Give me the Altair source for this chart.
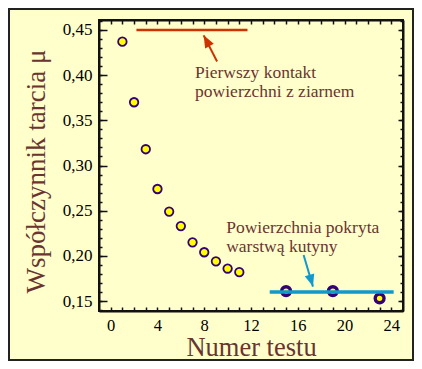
import altair as alt
import pandas as pd

# ---- data ----
test_no = [1, 2, 3, 4, 5, 6, 7, 8, 9, 10, 11]
mu = [0.437, 0.370, 0.318, 0.274, 0.249, 0.233, 0.215, 0.204, 0.194, 0.186, 0.182]
test_no_cut = [15, 19, 23]
mu_cut = [0.161, 0.161, 0.153]

red_line_x = [2.2, 11.7]
red_line_y = [0.45]
blue_line_x = [13.6, 24.2]
blue_line_y = [0.160]

red_arrow = {"x": [9.1], "y": [0.415], "x2": [7.95], "y2": [0.444]}
blue_arrow = {"x": [16.5], "y": [0.201], "x2": [17.3], "y2": [0.166]}

red_text = ["Pierwszy kontakt", "powierzchni z ziarnem"]
red_text_x = [7.22, 7.22]
red_text_y = [0.397, 0.3755]
blue_text = ["Powierzchnia pokryta", "warstwą kutyny"]
blue_text_x = [9.88, 9.88]
blue_text_y = [0.2252, 0.2043]

x_ticks = list(range(0, 25))
y_major = [0.15, 0.20, 0.25, 0.30, 0.35, 0.40, 0.45]
y_minor = [round(0.14 + 0.01 * i, 2) for i in range(33)]

# ---- styling ----
BROWN = "#6a3530"
FONT = "Liberation Serif"
BG = "#ffffcc"

xs = alt.Scale(domain=[-1, 25], nice=False, zero=False)
ys = alt.Scale(domain=[0.139, 0.461], nice=False, zero=False)


def inward(n):
    return alt.ExprRef(expr=str(-n))


common = dict(grid=False, tickColor="#111", tickWidth=1.5, labelFont=FONT,
              labelFontSize=17, labelColor="#000", titleFont=FONT,
              titleFontSize=27, titleColor=BROWN, titleFontWeight="normal",
              domainColor="#111", domainWidth=2)

bottom_style = dict(common, labelFontSize=16.5, titleFontSize=26.5)

ax_bottom = alt.Axis(orient="bottom", values=x_ticks, tickSize=inward(4),
                     labelExpr="datum.value % 4 === 0 ? datum.value : ''",
                     labelOverlap=False, labelPadding=10, title="Numer testu",
                     titleBaseline="alphabetic", titleY=44.5, **bottom_style)
ax_top = alt.Axis(orient="top", values=x_ticks, tickSize=inward(4),
                  labels=False, title=None, **common)
ax_left = alt.Axis(orient="left", values=y_major, tickSize=inward(8),
                   labelExpr="replace(format(datum.value, '.2f'), '.', ',')",
                   labelPadding=15, title="Współczynnik tarcia μ",
                   titleBaseline="alphabetic", titleAngle=270, titleX=-55,
                   titleY=151, **common)
ax_left_minor = alt.Axis(orient="left", values=y_minor, tickSize=inward(3),
                         labels=False, domain=False, title=None, **common)
ax_right = alt.Axis(orient="right", values=y_major, tickSize=inward(5),
                    labels=False, title=None, **common)
ax_right_minor = alt.Axis(orient="right", values=y_minor, tickSize=inward(3),
                          labels=False, domain=False, title=None, **common)

main_df = pd.DataFrame({"test": test_no, "mu": mu})
cut_df = pd.DataFrame({"test": test_no_cut, "mu": mu_cut})
red_df = pd.DataFrame({"x": [red_line_x[0]], "x2": [red_line_x[1]], "y": red_line_y})
blue_df = pd.DataFrame({"x": [blue_line_x[0]], "x2": [blue_line_x[1]], "y": blue_line_y})
red_arrow_df = pd.DataFrame(red_arrow)
blue_arrow_df = pd.DataFrame(blue_arrow)
red_text_df = pd.DataFrame({"x": red_text_x, "y": red_text_y, "t": red_text})
blue_text_df = pd.DataFrame({"x": blue_text_x, "y": blue_text_y, "t": blue_text})

HEAD = "M0,0 L0.8,2 L-0.8,2 Z"

pts = alt.Chart(main_df).mark_point(
    filled=True, fill="#ffff00", stroke="#330077", strokeWidth=1.8, size=72, opacity=1
).encode(x=alt.X("test:Q", scale=xs, axis=ax_bottom),
         y=alt.Y("mu:Q", scale=ys, axis=ax_left))

pts_cut = alt.Chart(cut_df).mark_point(
    filled=True, fill="#ffff00", stroke="#330077", strokeWidth=3.4, size=78, opacity=1
).encode(x=alt.X("test:Q", scale=xs, axis=ax_top),
         y=alt.Y("mu:Q", scale=ys, axis=ax_right))

red_line = alt.Chart(red_df).mark_rule(color="#cc3300", strokeWidth=2.6).encode(
    x=alt.X("x:Q", scale=xs, axis=None), x2="x2:Q",
    y=alt.Y("y:Q", scale=ys, axis=ax_left_minor))

blue_line = alt.Chart(blue_df).mark_rule(color="#1199cc", strokeWidth=3.3).encode(
    x=alt.X("x:Q", scale=xs, axis=None), x2="x2:Q",
    y=alt.Y("y:Q", scale=ys, axis=ax_right_minor))

red_arr = alt.Chart(red_arrow_df).mark_rule(color="#cc3300", strokeWidth=2).encode(
    x=alt.X("x:Q", scale=xs, axis=None), x2="x2:Q",
    y=alt.Y("y:Q", scale=ys, axis=None), y2="y2:Q")
red_head = alt.Chart(red_arrow_df).mark_point(
    shape=HEAD, filled=True, color="#cc3300", size=150, angle=331.7, opacity=1
).encode(x=alt.X("x2:Q", scale=xs, axis=None), y=alt.Y("y2:Q", scale=ys, axis=None))

blue_arr = alt.Chart(blue_arrow_df).mark_rule(color="#1199cc", strokeWidth=2).encode(
    x=alt.X("x:Q", scale=xs, axis=None), x2="x2:Q",
    y=alt.Y("y:Q", scale=ys, axis=None), y2="y2:Q")
blue_head = alt.Chart(blue_arrow_df).mark_point(
    shape=HEAD, filled=True, color="#1199cc", size=150, angle=163.5, opacity=1
).encode(x=alt.X("x2:Q", scale=xs, axis=None), y=alt.Y("y2:Q", scale=ys, axis=None))

txt_style = dict(align="left", baseline="alphabetic", font=FONT, fontSize=17.5, color=BROWN)
red_txt = alt.Chart(red_text_df).mark_text(**txt_style).encode(
    x=alt.X("x:Q", scale=xs, axis=None), y=alt.Y("y:Q", scale=ys, axis=None), text="t:N")
blue_txt = alt.Chart(blue_text_df).mark_text(**txt_style).encode(
    x=alt.X("x:Q", scale=xs, axis=None), y=alt.Y("y:Q", scale=ys, axis=None), text="t:N")

frame = alt.Chart(pd.DataFrame({"k": [0]})).mark_rect(
    filled=False, stroke="#222", strokeWidth=2
).encode(x=alt.value(-90), x2=alt.value(314), y=alt.value(-11), y2=alt.value(340))

chart = alt.layer(
    pts, pts_cut, red_line, blue_line, red_arr, red_head, blue_arr, blue_head,
    red_txt, blue_txt, frame
).resolve_axis(x="independent", y="independent").properties(
    width=304, height=291,
    autosize=alt.AutoSizeParams(type="none"),
    padding={"left": 91, "top": 12, "right": 11, "bottom": 50},
    background=BG,
).configure_view(stroke="#111", strokeWidth=2)

chart.save("out.html", embed_options={"renderer": "svg", "actions": False})
